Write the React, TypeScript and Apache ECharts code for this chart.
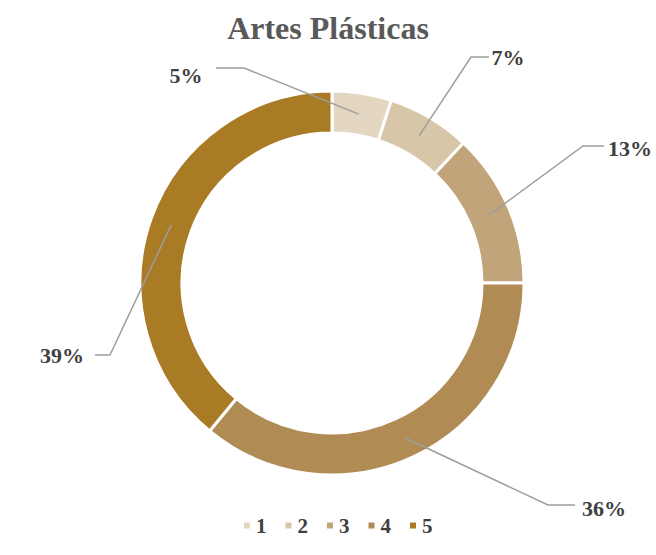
import React, { useEffect, useRef } from "react";
import * as echarts from "echarts";

const categories = ["1", "2", "3", "4", "5"];
const values = [5, 7, 13, 36, 39];
const colors = ["#e3d7c1", "#d8c6a8", "#c1a47a", "#b08b53", "#a97b25"];
// label anchor positions (text centre) and elbow points for leader lines
const labelPos: [number, number][] = [
  [186, 75],
  [508, 57],
  [630, 148],
  [604, 508],
  [62, 355],
];
const elbowPos: [number, number][] = [
  [244, 68],
  [471, 57],
  [583, 146],
  [548, 505],
  [110, 355],
];
const lineEndPos: [number, number][] = [
  [216, 68],
  [489, 57],
  [604, 146],
  [575, 505],
  [95, 355],
];

const CX = 332;
const CY = 283;
const R_OUT = 192;
const R_IN = 150;
const FONT = "Liberation Serif";

export default function App() {
  const ref = useRef<HTMLDivElement>(null);
  useEffect(() => {
    if (!ref.current) return;
    const chart = echarts.init(ref.current, null, { renderer: "svg" });
    const total = values.reduce((a, b) => a + b, 0);
    const anchors = values.map((v, i) => {
      const before = values.slice(0, i).reduce((a, b) => a + b, 0);
      const ang = ((before + v / 2) / total) * Math.PI * 2;
      const r = (R_OUT + R_IN) / 2;
      return [CX + r * Math.sin(ang), CY - r * Math.cos(ang)];
    });
    const data = categories.map((c, i) => ({ name: c, value: values[i] }));
    chart.setOption({
      animation: false,
      backgroundColor: "#ffffff",
      title: {
        text: "Artes Plásticas",
        left: "center",
        top: 7,
        textStyle: {
          fontFamily: FONT,
          fontWeight: "bold",
          fontSize: 32,
          color: "#595959",
        },
      },
      legend: {
        top: 510,
        left: 237,
        itemWidth: 8,
        itemHeight: 8,
        itemGap: 17,
        icon: "rect",
        textStyle: {
          fontFamily: FONT,
          fontWeight: "bold",
          fontSize: 21,
          color: "#404040",
        },
        data: categories,
      },
      series: [
        {
          type: "pie",
          z: 2,
          center: [CX, CY],
          radius: [R_IN, R_OUT],
          startAngle: 90,
          clockwise: true,
          color: colors,
          itemStyle: { borderColor: "#ffffff", borderWidth: 3 },
          data,
          label: { show: false },
          labelLine: { show: false },
          emphasis: { disabled: true },
        },
        {
          type: "pie",
          z: 5,
          silent: true,
          center: [CX, CY],
          radius: [R_IN, R_OUT],
          startAngle: 90,
          clockwise: true,
          itemStyle: { color: "rgba(0,0,0,0)", borderWidth: 0 },
          data,
          label: {
            show: true,
            position: "outside",
            formatter: (p: any) => `${Math.round(p.percent)}%`,
            fontFamily: FONT,
            fontWeight: "bold",
            fontSize: 22,
            color: "#404040",
          },
          labelLine: {
            show: true,
            lineStyle: { color: "#9d9d9d", width: 1.5 },
          },
          labelLayout: (params: any) => {
            const i = params.dataIndex;
            return {
              x: labelPos[i][0],
              y: labelPos[i][1],
              align: "center",
              verticalAlign: "middle",
              labelLinePoints: [anchors[i], elbowPos[i], lineEndPos[i]],
            };
          },
          emphasis: { disabled: true },
        },
      ],
    });
    return () => chart.dispose();
  }, []);
  return (
    <div
      ref={ref}
      style={{ position: "fixed", left: 0, top: 0, width: 656, height: 555 }}
    />
  );
}
